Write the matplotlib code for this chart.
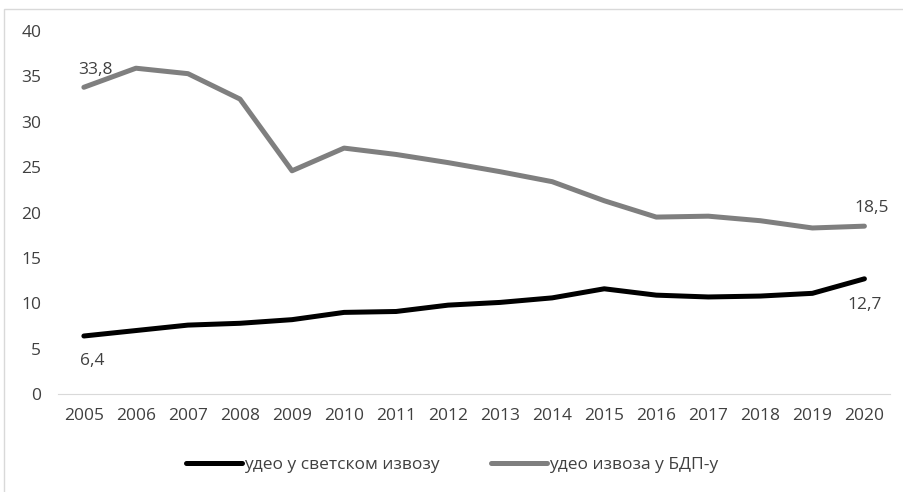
import matplotlib
matplotlib.use("Agg")
import matplotlib.pyplot as plt
from matplotlib.patches import Rectangle

years = list(range(2005, 2021))
world_share = [6.4, 7.0, 7.6, 7.8, 8.2, 9.0, 9.1, 9.8, 10.1, 10.6, 11.6, 10.9, 10.7, 10.8, 11.1, 12.7]
gdp_share = [33.8, 35.9, 35.3, 32.5, 24.6, 27.1, 26.4, 25.5, 24.5, 23.4, 21.3, 19.5, 19.6, 19.1, 18.3, 18.5]
label_world = "удео у светском извозу"
label_gdp = "удео извоза у БДП-у"

plt.rcParams['font.family'] = ['Open Sans', 'DejaVu Sans']

fig = plt.figure(figsize=(9.04, 4.92), dpi=100)
ax = fig.add_axes([0.064, 0.199, 0.921, 0.738])

ax.plot(years, world_share, color='black', lw=3.6, solid_capstyle='round', label=label_world)
ax.plot(years, gdp_share, color='#7f7f7f', lw=3.6, solid_capstyle='round', label=label_gdp)

ax.set_xlim(2004.5, 2020.5)
ax.set_ylim(0, 40)
ax.set_yticks(range(0, 41, 5))
ax.set_xticks(years)
ax.tick_params(length=0, labelsize=12.5, colors='#404040', pad=10)
ax.tick_params(axis='y', pad=12)
for s in ['top', 'right', 'left']:
    ax.spines[s].set_visible(False)
ax.spines['bottom'].set_color('#d9d9d9')

txt = dict(fontsize=12.5, color='#404040', ha='center')
ax.annotate(f"{gdp_share[0]:.1f}".replace('.', ','), (years[0], gdp_share[0]), xytext=(8, 7), textcoords='offset points', va='bottom', **txt)
ax.annotate(f"{world_share[0]:.1f}".replace('.', ','), (years[0], world_share[0]), xytext=(6, -12), textcoords='offset points', va='top', **txt)
ax.annotate(f"{gdp_share[-1]:.1f}".replace('.', ','), (years[-1], gdp_share[-1]), xytext=(5, 7), textcoords='offset points', va='bottom', **txt)
ax.annotate(f"{world_share[-1]:.1f}".replace('.', ','), (years[-1], world_share[-1]), xytext=(0, -13), textcoords='offset points', va='top', **txt)

fig.legend(loc='center', bbox_to_anchor=(0.5, 0.055), ncol=2, frameon=False, fontsize=12.5,
           handlelength=3.2, columnspacing=3, handletextpad=0.1, labelcolor='#404040')

fig.patches.append(Rectangle((4/904, -0.1), 1.0, 1 - 9/492 + 0.1, transform=fig.transFigure,
                             fill=False, edgecolor='#d9d9d9', lw=1))

fig.savefig("out.png", dpi=100)
